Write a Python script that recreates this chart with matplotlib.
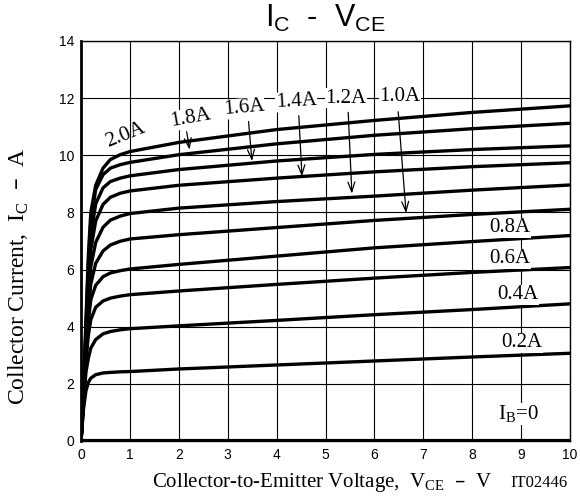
import matplotlib
matplotlib.use("Agg")
import matplotlib.pyplot as plt

# ---- data ----
vce = [0, 0.05, 0.1, 0.15, 0.2, 0.3, 0.45, 0.6, 0.8, 1, 2, 4, 6, 8, 10]
ib_labels = ["0.2A", "0.4A", "0.6A", "0.8A", "1.0A", "1.2A", "1.4A", "1.6A", "1.8A", "2.0A"]
ic_02 = [0, 1.1, 1.75, 2.05, 2.2, 2.32, 2.38, 2.40, 2.42, 2.43, 2.52, 2.66, 2.80, 2.94, 3.07]
ic_04 = [0, 1.3, 2.4, 2.9, 3.25, 3.55, 3.75, 3.83, 3.89, 3.93, 4.03, 4.22, 4.42, 4.60, 4.80]
ic_06 = [0, 1.4, 2.8, 3.7, 4.25, 4.68, 4.90, 5.00, 5.07, 5.12, 5.25, 5.48, 5.70, 5.90, 6.07]
ic_08 = [0, 1.45, 3.0, 4.2, 4.95, 5.45, 5.75, 5.88, 5.96, 6.02, 6.18, 6.47, 6.76, 6.98, 7.19]
ic_10 = [0, 1.5, 3.2, 4.6, 5.5, 6.22, 6.65, 6.86, 6.99, 7.07, 7.22, 7.47, 7.72, 7.93, 8.11]
ic_12 = [0, 1.55, 3.4, 5.0, 6.1, 6.95, 7.48, 7.73, 7.87, 7.96, 8.15, 8.38, 8.57, 8.78, 8.96]
ic_14 = [0, 1.6, 3.6, 5.4, 6.7, 7.70, 8.28, 8.53, 8.67, 8.75, 8.95, 9.20, 9.42, 9.60, 9.74]
ic_16 = [0, 1.65, 3.8, 5.8, 7.2, 8.30, 8.86, 9.08, 9.20, 9.28, 9.50, 9.80, 10.03, 10.20, 10.33]
ic_18 = [0, 1.7, 4.0, 6.2, 7.7, 8.80, 9.32, 9.55, 9.67, 9.75, 10.02, 10.40, 10.70, 10.93, 11.12]
ic_20 = [0, 1.75, 4.2, 6.5, 8.0, 8.95, 9.55, 9.85, 10.02, 10.13, 10.45, 10.90, 11.22, 11.50, 11.73]
ic_00 = [0, 0, 0, 0, 0, 0, 0, 0, 0, 0, 0, 0, 0, 0, 0]
curves = [ic_02, ic_04, ic_06, ic_08, ic_10, ic_12, ic_14, ic_16, ic_18, ic_20]

x_ticks = [0, 1, 2, 3, 4, 5, 6, 7, 8, 9, 10]
y_ticks = [0, 2, 4, 6, 8, 10, 12, 14]

serif = ["Liberation Serif", "DejaVu Serif"]
sans = ["Liberation Sans", "DejaVu Sans"]

fig = plt.figure(figsize=(5.8, 4.98), dpi=100)
ax = fig.add_axes([0.1397, 0.1145, 0.8433, 0.8032])

for c in curves:
    ax.plot(vce, c, color="black", lw=2.4, solid_capstyle="butt", zorder=3)
ax.plot(vce, ic_00, color="black", lw=3.0, zorder=3)

ax.set_xlim(0, 10)
ax.set_ylim(0, 14)
ax.set_xticks(x_ticks)
ax.set_yticks(y_ticks)
ax.set_xticklabels([str(t) for t in x_ticks], family=sans, fontsize=10)
ax.set_yticklabels([str(t) for t in y_ticks], family=sans, fontsize=10)
ax.tick_params(length=0, pad=5)
ax.grid(True, color="black", lw=0.8)
for s in ax.spines.values():
    s.set_linewidth(1.0)
ax.spines["left"].set_linewidth(2.0)

# curve labels
tk = dict(family=serif, fontsize=15, color="black", zorder=5)
ax.text(0.9, 10.72, "2.0A", rotation=22, ha="center", va="center", **tk)
top_labels = [("1.8A", 2.25, 11.30, 10, 2.15, 10.92, 2.23, 10.10),
              ("1.6A", 3.33, 11.65, 5, 3.42, 11.28, 3.50, 9.70),
              ("1.4A", 4.40, 11.88, 3, 4.45, 11.48, 4.52, 9.16),
              ("1.2A", 5.42, 12.00, 0, 5.46, 11.60, 5.54, 8.56),
              ("1.0A", 6.52, 12.04, 0, 6.48, 11.62, 6.65, 7.88)]
for lab, lx, ly, rot, ax0, ay0, ax1, ay1 in top_labels:
    ax.text(lx, ly, lab, rotation=rot, ha="center", va="center",
            bbox=dict(facecolor="white", edgecolor="none", pad=0.3), **tk)
    ax.annotate("", xy=(ax1, ay1), xytext=(ax0, ay0),
                arrowprops=dict(arrowstyle="->,head_length=0.7,head_width=0.25",
                                color="black", lw=0.9), zorder=4)

right_labels = [("0.8A", 8.77, 7.46), ("0.6A", 8.77, 6.37), ("0.4A", 8.94, 5.11), ("0.2A", 9.02, 3.43)]
for lab, lx, ly in right_labels:
    ax.text(lx, ly, lab, ha="center", va="center",
            bbox=dict(facecolor="white", edgecolor="none", pad=0.3), **tk)
ax.text(8.95, 0.95, r"I$_\mathregular{B}$=0", ha="center", va="center",
        bbox=dict(facecolor="white", edgecolor="none", pad=0.3), **tk)

fig.text(0.561, 0.962, r"I$_\mathregular{C}$  -  V$_\mathregular{CE}$", ha="center", va="center",
         family=sans, fontsize=22)
fig.text(0.555, 0.032, r"Collector-to-Emitter Voltage,  V$_\mathregular{CE}$  –  V",
         ha="center", va="center", family=serif, fontsize=15)
fig.text(0.930, 0.030, "IT02446", ha="center", va="center", family=serif, fontsize=12)
fig.text(0.033, 0.445, r"Collector Current,  I$_\mathregular{C}$  –  A", rotation=90,
         ha="center", va="center", family=serif, fontsize=17)

fig.savefig("out.png", dpi=100)
